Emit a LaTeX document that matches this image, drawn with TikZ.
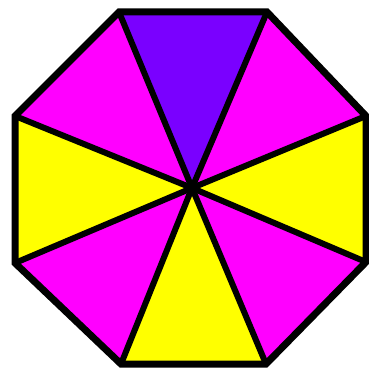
\documentclass[tikz,border=0pt]{standalone}
\begin{document}
\begin{tikzpicture}[x=1pt,y=-1pt,
  edge/.style={draw=black,line width=7pt,line join=miter},
  spoke/.style={draw=black,line width=6pt}]
\definecolor{mag}{RGB}{255,0,255}
\definecolor{yel}{RGB}{255,255,0}
\definecolor{pur}{RGB}{122,0,255}
\useasboundingbox (0,0) rectangle (368,371);
\coordinate (C) at (192,188);
\coordinate (A) at (119,12);
\coordinate (B) at (267,12);
\coordinate (D) at (366,116);
\coordinate (E) at (366,262);
\coordinate (F) at (266,364);
\coordinate (G) at (121,364);
\coordinate (H) at (15,263);
\coordinate (I) at (15,116);
\fill[pur] (C) -- (A) -- (B) -- cycle;
\fill[mag] (C) -- (B) -- (D) -- cycle;
\fill[yel] (C) -- (D) -- (E) -- cycle;
\fill[mag] (C) -- (E) -- (F) -- cycle;
\fill[yel] (C) -- (F) -- (G) -- cycle;
\fill[mag] (C) -- (G) -- (H) -- cycle;
\fill[yel] (C) -- (H) -- (I) -- cycle;
\fill[mag] (C) -- (I) -- (A) -- cycle;
\foreach \p in {A,B,D,E,F,G,H,I} \draw[spoke] (C) -- (\p);
\draw[edge] (A) -- (B) -- (D) -- (E) -- (F) -- (G) -- (H) -- (I) -- cycle;
\end{tikzpicture}
\end{document}
